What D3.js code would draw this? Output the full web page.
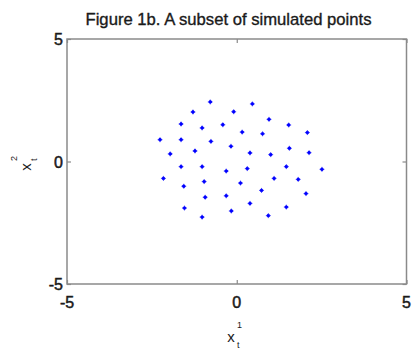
<!DOCTYPE html>
<html>
<head>
<meta charset="utf-8">
<script src="https://cdn.jsdelivr.net/npm/d3@7"></script>
<style>
  html, body { margin: 0; padding: 0; background: #fff; }
  svg { display: block; }
  text { font-family: "Liberation Sans", Arial, sans-serif; fill: #1a1a1a; }
</style>
</head>
<body>
<svg id="chart" width="413" height="350"></svg>
<script>
// Simulated points (x_t^1, x_t^2)
const xVals = [-0.78, 0.46, -1.29, -0.09, 0.95, -1.64, -1.02, -0.41, 1.53, 0.16, 0.76, 2.08,
  -2.26, -1.64, -0.76, -0.17, -1.96, -1.23, 0.39, 1.00, 1.55, 2.13,
  -1.64, -1.02, -0.31, 0.31, 1.46, 2.51, -2.16, -1.56, -0.96, 0.11, 1.10, 1.81,
  0.73, -0.93, -0.31, 2.04, -1.54, -0.16, 0.39, 1.46, -1.02, 0.93];
const yVals = [2.43, 2.35, 2.02, 2.03, 1.72, 1.53, 1.37, 1.50, 1.49, 1.20, 1.13, 1.18,
  0.89, 0.89, 0.82, 0.62, 0.31, 0.43, 0.35, 0.28, 0.54, 0.36,
  -0.21, -0.21, -0.39, -0.29, -0.21, -0.32, -0.69, -1.01, -0.82, -0.88, -0.69, -0.73,
  -1.18, -1.46, -1.40, -1.31, -1.90, -2.02, -1.71, -1.86, -2.27, -2.21];
const xTicks = [-5, 0, 5];
const yTicks = [-5, 0, 5];
const titleText = "Figure 1b. A subset of simulated points";

const svg = d3.select("#chart");
const plotLeft = 67, plotRight = 406.5, plotTop = 39, plotBottom = 284;

const x = d3.scaleLinear().domain([-5, 5]).range([plotLeft, plotRight]);
const y = d3.scaleLinear().domain([-5, 5]).range([plotBottom, plotTop]);

const axisColor = "#8a8a8a";

// Frame
svg.append("rect")
  .attr("x", plotLeft).attr("y", plotTop)
  .attr("width", plotRight - plotLeft).attr("height", plotBottom - plotTop)
  .attr("fill", "none").attr("stroke", axisColor).attr("stroke-width", 1.5);

// Inward ticks on all four sides
function styleAxis(g) {
  g.select(".domain").remove();
  g.selectAll(".tick line").attr("stroke", axisColor).attr("stroke-width", 1.2);
}
svg.append("g").attr("transform", `translate(0,${plotBottom})`)
  .call(d3.axisBottom(x).tickValues(xTicks).tickSizeInner(-4).tickSizeOuter(0).tickFormat(""))
  .call(styleAxis);
svg.append("g").attr("transform", `translate(0,${plotTop})`)
  .call(d3.axisTop(x).tickValues(xTicks).tickSizeInner(-4).tickSizeOuter(0).tickFormat(""))
  .call(styleAxis);
svg.append("g").attr("transform", `translate(${plotLeft},0)`)
  .call(d3.axisLeft(y).tickValues(yTicks).tickSizeInner(-4).tickSizeOuter(0).tickFormat(""))
  .call(styleAxis);
svg.append("g").attr("transform", `translate(${plotRight},0)`)
  .call(d3.axisRight(y).tickValues(yTicks).tickSizeInner(-4).tickSizeOuter(0).tickFormat(""))
  .call(styleAxis);

// Tick labels
const tickFmt = d => d < 0 ? "-" + Math.abs(d) : String(d);
svg.append("g").selectAll("text").data(xTicks).join("text")
  .attr("x", d => x(d)).attr("y", plotBottom + 24)
  .attr("text-anchor", "middle")
  .attr("font-size", 16).attr("stroke", "#1a1a1a").attr("stroke-width", 0.5)
  .text(tickFmt);
svg.append("g").selectAll("text").data(yTicks).join("text")
  .attr("x", plotLeft - 4).attr("y", d => y(d) + 6)
  .attr("text-anchor", "end")
  .attr("font-size", 16).attr("stroke", "#1a1a1a").attr("stroke-width", 0.5)
  .text(tickFmt);

// Title
svg.append("text")
  .attr("x", 228.5).attr("y", 25)
  .attr("text-anchor", "middle")
  .attr("font-size", 17).attr("stroke", "#1a1a1a").attr("stroke-width", 0.35)
  .attr("textLength", 286).attr("lengthAdjust", "spacingAndGlyphs")
  .text(titleText);

// x-axis label: x_t^1
const xl = svg.append("g").attr("transform", "translate(231,342)");
xl.append("text").attr("text-anchor", "middle").attr("font-size", 15).text("x");
xl.append("text").attr("x", 6).attr("y", -14).attr("font-size", 9).text("1");
xl.append("text").attr("x", 6).attr("y", 6).attr("font-size", 9).text("t");

// y-axis label: x_t^2 (rotated)
const yl = svg.append("g").attr("transform", "translate(31,167) rotate(-90)");
yl.append("text").attr("text-anchor", "middle").attr("font-size", 15).text("x");
yl.append("text").attr("x", 6).attr("y", -14).attr("font-size", 9).text("2");
yl.append("text").attr("x", 6).attr("y", 6).attr("font-size", 9).text("t");

// Points
const pts = xVals.map((v, i) => [v, yVals[i]]);
const pg = svg.append("g").attr("fill", "#0000ff").attr("stroke", "#0000ff");
pg.selectAll("circle").data(pts).join("circle")
  .attr("cx", d => x(d[0])).attr("cy", d => y(d[1]))
  .attr("r", 1.4).attr("stroke-width", 0.8);
pg.selectAll("path").data(pts).join("path")
  .attr("d", d => {
    const cx = x(d[0]), cy = y(d[1]);
    return `M${cx - 2.5},${cy}H${cx + 2.5}M${cx},${cy - 2.5}V${cy + 2.5}`;
  })
  .attr("stroke-width", 1).attr("stroke-opacity", 0.6);
</script>
</body>
</html>
